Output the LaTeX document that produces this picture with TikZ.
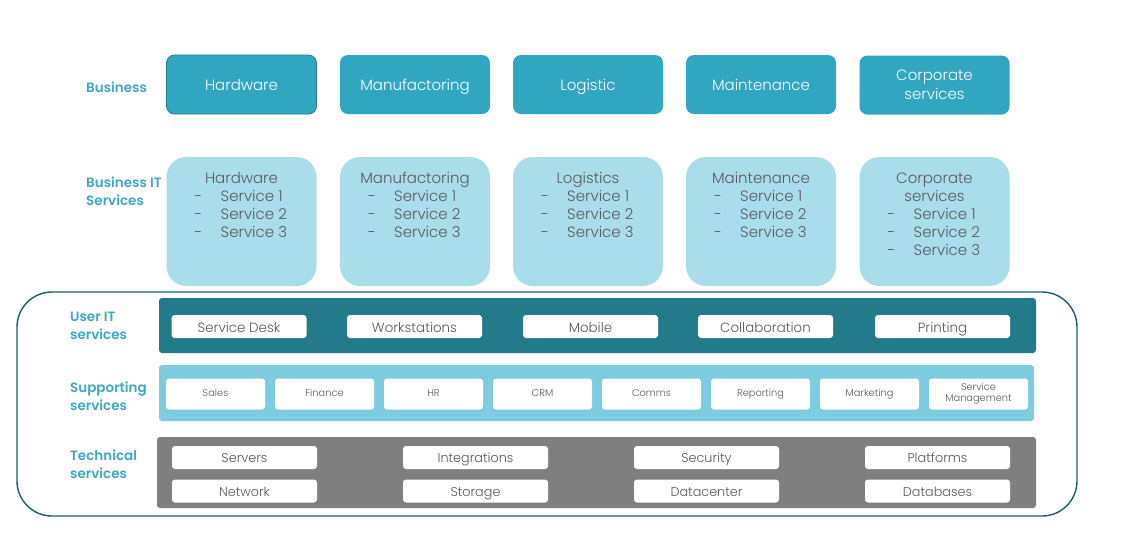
\documentclass[tikz,border=0pt]{standalone}
\usepackage{fontspec}
\setmainfont{Poppins}[UprightFont={* Light}, BoldFont={* SemiBold}]
\begin{document}
\begin{tikzpicture}[x=1pt,y=-1pt,
  bizbase/.style={fill=bizc, rounded corners=8pt, minimum width=150pt, minimum height=59pt, inner sep=0pt, text=white, align=center, font=\fontsize{15}{18.5}\selectfont},
  bizbox/.style={bizbase, text height=15pt, text depth=3pt},
  itbox/.style={fill=itc, rounded corners=20pt, minimum width=150pt, minimum height=129pt, inner sep=0pt},
  ittext/.style={anchor=base, inner sep=0pt, text=txtc, font=\fontsize{15}{18}\selectfont},
  svctext/.style={anchor=base west, inner sep=0pt, text=txtc, font=\fontsize{15}{18}\selectfont},
  lbl/.style={anchor=west, inner sep=0pt, text=lblc, align=left, font=\bfseries\fontsize{13.5}{18}\selectfont},
  band/.style={rounded corners=3pt, inner sep=0pt},
  wbox/.style={fill=white, rounded corners=3pt, inner sep=0pt, text=txtc, align=center},
  ubox/.style={wbox, minimum width=135pt, minimum height=23pt, font=\fontsize{13.4}{15}\selectfont, text height=13.5pt, text depth=2.5pt},
  sbox/.style={wbox, minimum width=99pt, minimum height=31pt, font=\fontsize{9.8}{11}\selectfont},
  sboxone/.style={sbox, text height=7pt, text depth=2pt},
  tbox/.style={wbox, minimum width=145pt, minimum height=23pt, font=\fontsize{12.8}{15}\selectfont, text height=13pt, text depth=2.5pt}
]
\definecolor{bizc}{HTML}{31A6C1}
\definecolor{bizb}{HTML}{1F7F95}
\definecolor{itc}{HTML}{A9DDEA}
\definecolor{lblc}{HTML}{3BA9C5}
\definecolor{userc}{HTML}{227A8B}
\definecolor{supc}{HTML}{7DCCDF}
\definecolor{techc}{HTML}{7F7F7F}
\definecolor{outc}{HTML}{1D5E6E}
\definecolor{txtc}{HTML}{595959}
\useasboundingbox[fill=white] (0,0) rectangle (1130,550);

% Business row
\node[lbl] (lbiz) at (86,87) {Business};
\node[bizbox, draw=bizb, line width=0.8pt] (b1) at (241.5,84.5) {Hardware};
\node[bizbox] (b2) at (415,84.5) {Manufactoring};
\node[bizbox] (b3) at (588,84.5) {Logistic};
\node[bizbox] (b4) at (761,84.5) {Maintenance};
\node[bizbase] (b5) at (934.5,85) {Corporate\\services};

% Business IT row
\node[lbl, anchor=north west] (lbit) at (86,177) {Business IT\\Services};
\foreach \x/\n/\t in {241.5/i1/Hardware, 415/i2/Manufactoring, 588/i3/Logistics, 761/i4/Maintenance}{
  \node[itbox] (\n) at (\x,221.5) {};
  \node[ittext] (\n t) at (\x,183.5) {\t};
  \foreach \k/\y in {1/201.5, 2/219.5, 3/237.5}{
    \node[ittext] (\n d\k) at (\x-43,\y) {-};
    \node[svctext] (\n s\k) at (\x-21,\y) {Service \k};
  }
}
\node[itbox] (i5) at (934.5,221.5) {};
\node[ittext] (i5t) at (934.5,183.5) {Corporate};
\node[ittext] (i5u) at (934.5,201.5) {services};
\foreach \k/\y in {1/219.5, 2/237.5, 3/255.5}{
  \node[ittext] (i5d\k) at (934.5-43,\y) {-};
  \node[svctext] (i5s\k) at (934.5-21,\y) {Service \k};
}

% Outer frame
\draw[outc, line width=1.4pt, rounded corners=35pt] (17,292) rectangle (1077,516);

% User IT services
\node[lbl, anchor=north west] (luser) at (70,312) {User IT\\services};
\node[band, fill=userc, minimum width=877pt, minimum height=55pt] (uband) at (597.5,325.5) {};
\node[ubox] (u1) at (239,326.5) {Service Desk};
\node[ubox] (u2) at (414.5,326.5) {Workstations};
\node[ubox] (u3) at (590.5,326.5) {Mobile};
\node[ubox] (u4) at (765.5,326.5) {Collaboration};
\node[ubox] (u5) at (942.5,326.5) {Printing};

% Supporting services
\node[lbl, anchor=north west] (lsup) at (70,382) {Supporting\\services};
\node[band, fill=supc, minimum width=875pt, minimum height=56pt] (sband) at (596.5,393) {};
\node[sboxone] (s1) at (215.5,394) {Sales};
\node[sboxone] (s2) at (324.5,394) {Finance};
\node[sboxone] (s3) at (433.5,394) {HR};
\node[sboxone] (s4) at (542.5,394) {CRM};
\node[sboxone] (s5) at (651.5,394) {Comms};
\node[sboxone] (s6) at (760.5,394) {Reporting};
\node[sboxone] (s7) at (869.5,394) {Marketing};
\node[sbox] (s8) at (978.5,394) {Service\\Management};

% Technical services
\node[lbl, anchor=north west] (ltech) at (70,450) {Technical\\services};
\node[band, fill=techc, minimum width=879pt, minimum height=71pt] (tband) at (596.5,472.5) {};
\node[tbox] (t1) at (244.5,457.5) {Servers};
\node[tbox] (t2) at (475.5,457.5) {Integrations};
\node[tbox] (t3) at (706.5,457.5) {Security};
\node[tbox] (t4) at (937.5,457.5) {Platforms};
\node[tbox] (t5) at (244.5,491) {Network};
\node[tbox] (t6) at (475.5,491) {Storage};
\node[tbox] (t7) at (706.5,491) {Datacenter};
\node[tbox] (t8) at (937.5,491) {Databases};
\end{tikzpicture}
\end{document}
